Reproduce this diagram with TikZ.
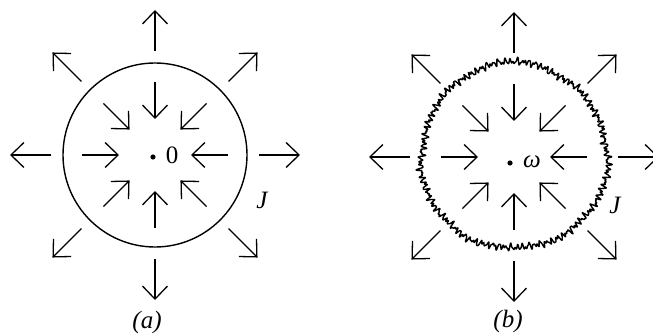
\documentclass[tikz,border=0pt]{standalone}
\usepackage{fontspec}
\setmainfont{Liberation Serif}
\usetikzlibrary{arrows.meta,calc}
\begin{document}
\begin{tikzpicture}[x=1pt,y=-1pt,
  arr/.style={line width=1.3pt,-{Straight Barb[length=13pt,width=25pt,line width=1.3pt]}},
  lbl/.style={font=\itshape,scale=2.5,inner sep=0pt},
  num/.style={scale=2.5,inner sep=0pt}]
\useasboundingbox (0,0) rectangle (653,334);
\clip (0,0) rectangle (653,334);
% panel (a)
\coordinate (ca) at (155,155);
\draw[line width=1.4pt] (ca) circle[radius=92];
\foreach \a in {0,45,...,315}{
  \draw[arr] ($(ca)+(\a:104)$) -- ($(ca)+(\a:145)$);
  \draw[arr] ($(ca)+(\a:73)$) -- ($(ca)+(\a:36)$);
}
\fill (153,157) circle[radius=2.6];
\node[num] (za) at (172,155) {0};
\node[lbl] (ja) at (262,200) {J};
\node[lbl] (la) at (147,322) {(a)};
% panel (b)
\coordinate (cb) at (514,157);
\begin{scope}[shift={(514,156)}]
\draw[line width=1.4pt,line join=round] plot[samples=1600,domain=0:6.2832,variable=\t]
  ({deg(\t)}:{93+1.8*sin(deg(mod(97*\t,6.2832)))+1.4*sin(deg(mod(151*\t,6.2832))+40)+1.0*sin(deg(mod(233*\t,6.2832))+10)+0.7*sin(deg(mod(61*\t,6.2832))+70)+1.2*sin(deg(3*\t)+20)+0.8*sin(deg(7*\t))+0.5*sin(deg(mod(13*\t,6.2832)))}) -- cycle;
\end{scope}
\foreach \a in {0,45,...,315}{
  \draw[arr] ($(cb)+(\a:104)$) -- ($(cb)+(\a:145)$);
  \draw[arr] ($(cb)+(\a:73)$) -- ($(cb)+(\a:36)$);
}
\fill (510,163) circle[radius=2.6];
\node[lbl] (wb) at (532,162) {ω};
\node[lbl] (jb) at (615,205) {J};
\node[lbl] (lb) at (508,321) {(b)};
\end{tikzpicture}
\end{document}
